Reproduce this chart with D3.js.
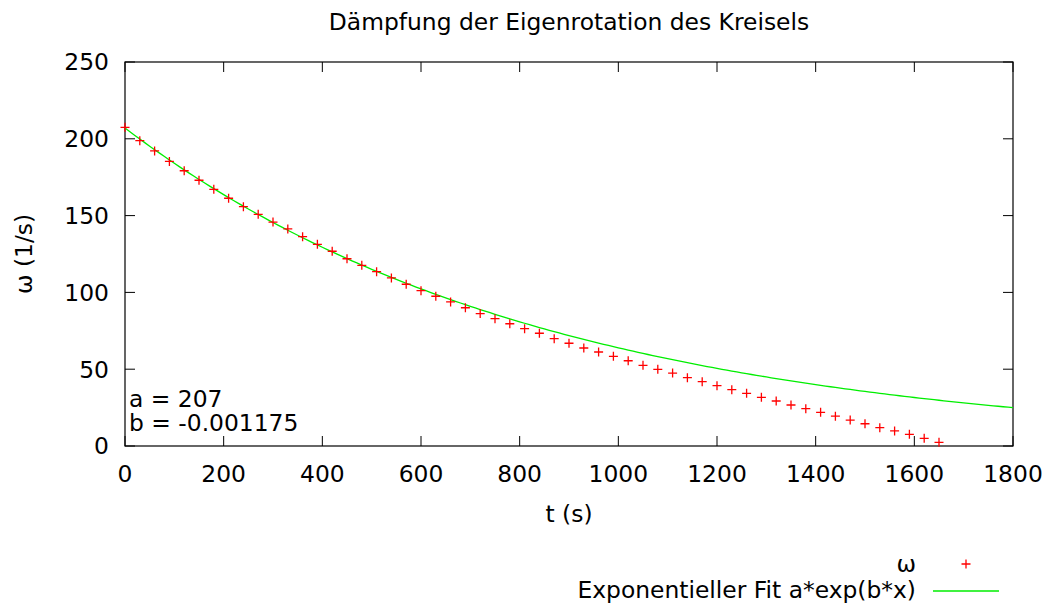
<!DOCTYPE html>
<html>
<head>
<meta charset="utf-8">
<script src="https://cdn.jsdelivr.net/npm/d3@7"></script>
<style>
  body { margin: 0; background: #fff; }
  svg { display: block; font-family: "DejaVu Sans", sans-serif; }
</style>
</head>
<body>
<div id="chart"></div>
<script>
// measured time (s)
const times = [0, 30, 60, 90, 120, 150, 180, 210, 240, 270, 300, 330, 360, 390, 420, 450,
  480, 510, 540, 570, 600, 630, 660, 690, 720, 750, 780, 810, 840, 870, 900, 930,
  960, 990, 1020, 1050, 1080, 1110, 1140, 1170, 1200, 1230, 1260, 1290, 1320, 1350,
  1380, 1410, 1440, 1470, 1500, 1530, 1560, 1590, 1620, 1650];
// angular velocity omega (1/s)
const omega = [207.5, 198.8, 192.1, 185.3, 179.2, 173.0, 167.1, 161.3, 155.8, 150.8, 145.8,
  141.3, 136.3, 131.3, 126.8, 121.9, 117.6, 113.5, 109.4, 105.3, 101.1, 97.5, 93.8, 90.0,
  86.2, 82.9, 79.6, 76.4, 73.4, 69.9, 66.9, 63.8, 61.2, 58.4, 55.5, 52.5, 49.9, 47.5, 44.5,
  41.9, 39.3, 36.7, 34.3, 31.7, 29.3, 26.7, 24.3, 21.9, 19.4, 16.9, 14.5, 11.9, 9.8, 7.6,
  5.0, 2.4];
// fit parameters shown in the plot
const fitA = 207;
const fitB = -0.001175;
const xTicks = [0, 200, 400, 600, 800, 1000, 1200, 1400, 1600, 1800];
const yTicks = [0, 50, 100, 150, 200, 250];

const W = 1052, H = 607;
const margin = { top: 62, right: 39, bottom: 161, left: 125 },
  width = W - margin.left - margin.right,
  height = H - margin.top - margin.bottom;

const svg = d3.select("#chart").append("svg")
  .attr("width", W)
  .attr("height", H);

const g = svg.append("g")
  .attr("transform", "translate(" + margin.left + "," + margin.top + ")");

const x = d3.scaleLinear().domain([0, 1800]).range([0, width]);
const y = d3.scaleLinear().domain([0, 250]).range([height, 0]);

const fs = "23.4px";
const tickLen = 10;

// ticks (inward, mirrored like gnuplot)
g.append("g").selectAll("line.xb").data(xTicks).enter().append("line")
  .attr("x1", d => x(d)).attr("x2", d => x(d))
  .attr("y1", height).attr("y2", height - tickLen)
  .attr("stroke", "#000").attr("stroke-width", 1);
g.append("g").selectAll("line.xt").data(xTicks).enter().append("line")
  .attr("x1", d => x(d)).attr("x2", d => x(d))
  .attr("y1", 0).attr("y2", tickLen)
  .attr("stroke", "#000").attr("stroke-width", 1);
g.append("g").selectAll("line.yl").data(yTicks).enter().append("line")
  .attr("y1", d => y(d)).attr("y2", d => y(d))
  .attr("x1", 0).attr("x2", tickLen)
  .attr("stroke", "#000").attr("stroke-width", 1);
g.append("g").selectAll("line.yr").data(yTicks).enter().append("line")
  .attr("y1", d => y(d)).attr("y2", d => y(d))
  .attr("x1", width).attr("x2", width - tickLen)
  .attr("stroke", "#000").attr("stroke-width", 1);

// tick labels
g.append("g").selectAll("text").data(xTicks).enter().append("text")
  .attr("x", d => x(d)).attr("y", height + 36)
  .attr("text-anchor", "middle")
  .style("font-size", fs)
  .text(d => d);
g.append("g").selectAll("text").data(yTicks).enter().append("text")
  .attr("x", -16).attr("y", d => y(d)).attr("dy", "0.36em")
  .attr("text-anchor", "end")
  .style("font-size", fs)
  .text(d => d);

// border
g.append("rect")
  .attr("x", 0).attr("y", 0).attr("width", width).attr("height", height)
  .attr("fill", "none").attr("stroke", "#000").attr("stroke-width", 1.2);

// fit curve a*exp(b*x)
const fitLine = d3.line()
  .x(d => x(d))
  .y(d => y(fitA * Math.exp(fitB * d)));
g.append("path")
  .datum(d3.range(0, 1801, 10))
  .attr("d", fitLine)
  .attr("fill", "none")
  .attr("stroke", "#00ee00")
  .attr("stroke-width", 1.3);

// data points as "+"
const plus = s => "M" + (-s) + ",0H" + s + "M0," + (-s) + "V" + s;
g.append("g").selectAll("path").data(times).enter().append("path")
  .attr("transform", (d, i) => "translate(" + x(d) + "," + y(omega[i]) + ")")
  .attr("d", plus(4.5))
  .attr("stroke", "#ff0000")
  .attr("stroke-width", 1.3)
  .attr("fill", "none");

// fit parameter labels
g.append("text").attr("x", 4).attr("y", 345).style("font-size", fs)
  .text("a = " + fitA);
g.append("text").attr("x", 4).attr("y", 369).style("font-size", fs)
  .text("b = " + fitB);

// title and axis labels
svg.append("text")
  .attr("x", margin.left + width / 2).attr("y", 30)
  .attr("text-anchor", "middle").style("font-size", fs)
  .text("Dämpfung der Eigenrotation des Kreisels");
svg.append("text")
  .attr("x", margin.left + width / 2).attr("y", 522)
  .attr("text-anchor", "middle").style("font-size", fs)
  .text("t (s)");
svg.append("text")
  .attr("transform", "translate(32," + (margin.top + height / 2) + ") rotate(-90)")
  .attr("text-anchor", "middle").style("font-size", fs)
  .text("ω (1/s)");

// legend
const legend = svg.append("g");
legend.append("text").attr("x", 916).attr("y", 572)
  .attr("text-anchor", "end").style("font-size", fs).text("ω");
legend.append("path")
  .attr("transform", "translate(966,564)")
  .attr("d", plus(4.5))
  .attr("stroke", "#ff0000").attr("stroke-width", 1.3);
legend.append("text").attr("x", 916).attr("y", 598)
  .attr("text-anchor", "end").style("font-size", fs).text("Exponentieller Fit a*exp(b*x)");
legend.append("line")
  .attr("x1", 933).attr("x2", 999).attr("y1", 591).attr("y2", 591)
  .attr("stroke", "#00ee00").attr("stroke-width", 1.3);
</script>
</body>
</html>
